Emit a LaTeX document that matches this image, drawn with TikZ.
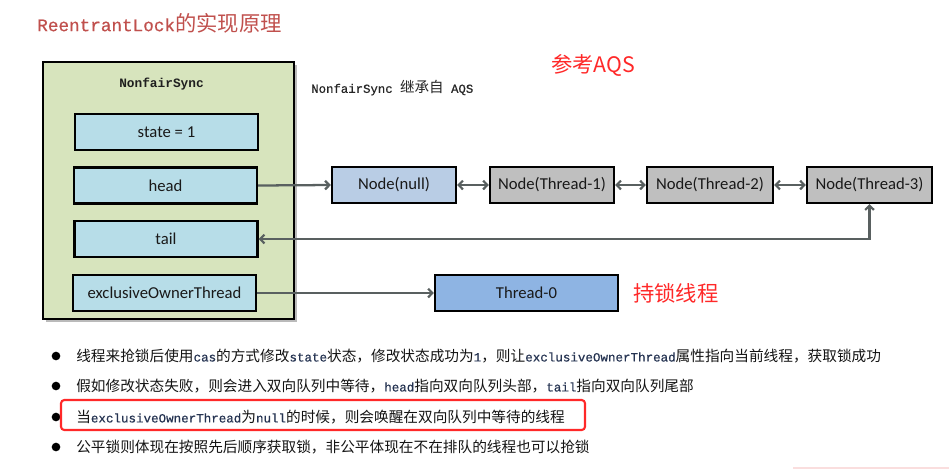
\documentclass[tikz,border=0pt]{standalone}
\usepackage{fontspec}
\setmainfont{Carlito}
\newfontfamily\cjk{Noto Sans CJK SC}
\newfontfamily\mono{Liberation Mono}
\newfontfamily\monob{Liberation Mono}[FakeBold=0.6]
\usetikzlibrary{arrows.meta,shadows}
\definecolor{outergreen}{RGB}{215,228,189}
\definecolor{fieldblue}{RGB}{183,221,232}
\definecolor{nullblue}{RGB}{185,205,229}
\definecolor{nodegray}{RGB}{191,191,191}
\definecolor{thrblue}{RGB}{142,180,227}
\definecolor{arrgray}{RGB}{89,96,96}
\definecolor{titlered}{RGB}{192,80,77}
\definecolor{hotred}{RGB}{255,40,40}
\definecolor{codeink}{RGB}{38,52,82}
\definecolor{faintpink}{RGB}{250,222,222}
\newcommand{\zhb}[1]{{\cjk\fontsize{11}{13}\selectfont #1}}
\newcommand{\mnb}[1]{{\monob\fontsize{9.4}{11}\selectfont\color{codeink}#1}}
\begin{document}
\begin{tikzpicture}[x=0.75pt,y=-0.75pt,
  box/.style={draw=black,line width=1.6pt,inner sep=0pt,font=\fontsize{12.5}{14}\selectfont,text=black!90},
  field/.style={box,fill=fieldblue,minimum width=137.25pt,minimum height=27pt},
  qnode/.style={box,minimum height=27pt},
  conn/.style={draw=arrgray,line width=1.7pt,-{Straight Barb[length=3.2pt,width=6.5pt]}},
  dconn/.style={draw=arrgray,line width=1.7pt,{Straight Barb[length=3.2pt,width=6.5pt]}-{Straight Barb[length=3.2pt,width=6.5pt]}},
  bul/.style={anchor=west,inner sep=0pt,text=black!92},
  dot/.style={circle,fill=black,inner sep=0pt,minimum size=6.5pt}
]
\useasboundingbox (0,0) rectangle (949,469);

% title
\node[anchor=west,inner sep=0pt,text=titlered] (title) at (37,23)
  {{\monob\fontsize{13.25}{16}\selectfont ReentrantLock}{\cjk\fontsize{16}{18}\selectfont 的实现原理}};

% outer NonfairSync box
\node[draw=black,line width=1.6pt,fill=outergreen,minimum width=188.25pt,minimum height=192.75pt,inner sep=0pt,
  drop shadow={shadow xshift=2.2pt,shadow yshift=-2pt,fill=black!45,opacity=0.6}] (outer) at (168.5,190.5) {};
\node[inner sep=0pt,text=black!88] (nfs) at (161.5,84) {\mono\bfseries\fontsize{9.6}{11}\selectfont NonfairSync};

\node[anchor=west,inner sep=0pt,text=black!85] (inherit) at (311,88)
  {{\monob\fontsize{9.25}{11}\selectfont NonfairSync }{\cjk\fontsize{10.9}{12}\selectfont 继承自}{\monob\fontsize{9.25}{11}\selectfont{} AQS}};

\node[anchor=west,inner sep=0pt,text=hotred] (refaqs) at (551,65) {\cjk\fontsize{16}{18}\selectfont 参考AQS};

% fields
\node[field] (state) at (166.5,132) {state = 1};
\node[field] (head) at (165.5,185.5) {head};
\node[field] (tail) at (166,239) {tail};
\node[field] (excl) at (164.5,293) {exclusiveOwnerThread};

% queue nodes
\node[qnode,fill=nullblue,minimum width=93pt] (n0) at (394,185) {Node(null)};
\node[qnode,fill=nodegray,minimum width=93pt] (n1) at (552,185) {Node(Thread-1)};
\node[qnode,fill=nodegray,minimum width=94.5pt] (n2) at (710,185) {Node(Thread-2)};
\node[qnode,fill=nodegray,minimum width=93.75pt] (n3) at (869.5,185) {Node(Thread-3)};

\node[qnode,fill=thrblue,minimum width=137.25pt] (t0) at (526.5,293) {Thread-0};
\node[anchor=west,inner sep=0pt,text=hotred] (holder) at (633,293) {\cjk\fontsize{16}{18}\selectfont 持锁线程};

% connectors
\draw[conn] (head.east) -- (n0.west);
\draw[dconn] (n0.east) -- (n1.west);
\draw[dconn] (n1.east) -- (n2.west);
\draw[dconn] (n2.east) -- (n3.west);
\draw[dconn] (tail.east) -| (n3.south);
\draw[conn] (excl.east) -- (t0.west);

% bullets
\node[dot] (d1) at (56,356) {};
\node[dot] (d2) at (56,386) {};
\node[dot] (d3) at (56,417) {};
\node[dot] (d4) at (56,447) {};

\node[bul] (b1) at (76,356) {\zhb{线程来抢锁后使用}\mnb{cas}\zhb{的方式修改}\mnb{state}\zhb{状态，修改状态成功为}\mnb{1}\zhb{，则让}\mnb{exclusiveOwnerThread}\zhb{属性指向当前线程，获取锁成功}};
\node[bul] (b2) at (76,386) {\zhb{假如修改状态失败，则会进入双向队列中等待，}\mnb{head}\zhb{指向双向队列头部，}\mnb{tail}\zhb{指向双向队列尾部}};
\node[bul] (b3) at (76,417) {\zhb{当}\mnb{exclusiveOwnerThread}\zhb{为}\mnb{null}\zhb{的时候，则会唤醒在双向队列中等待的线程}};
\node[bul] (b4) at (76,447) {\zhb{公平锁则体现在按照先后顺序获取锁，非公平体现在不在排队的线程也可以抢锁}};

% highlight
\node[draw=hotred,line width=1.6pt,rounded corners=2.5pt,minimum width=393pt,minimum height=22.5pt,inner sep=0pt] (hl) at (323,415) {};

% faint line
\coordinate (fa) at (793,468);
\coordinate (fb) at (949,468);
\draw[faintpink,line width=1.2pt] (fa) -- (fb);
\end{tikzpicture}
\end{document}
